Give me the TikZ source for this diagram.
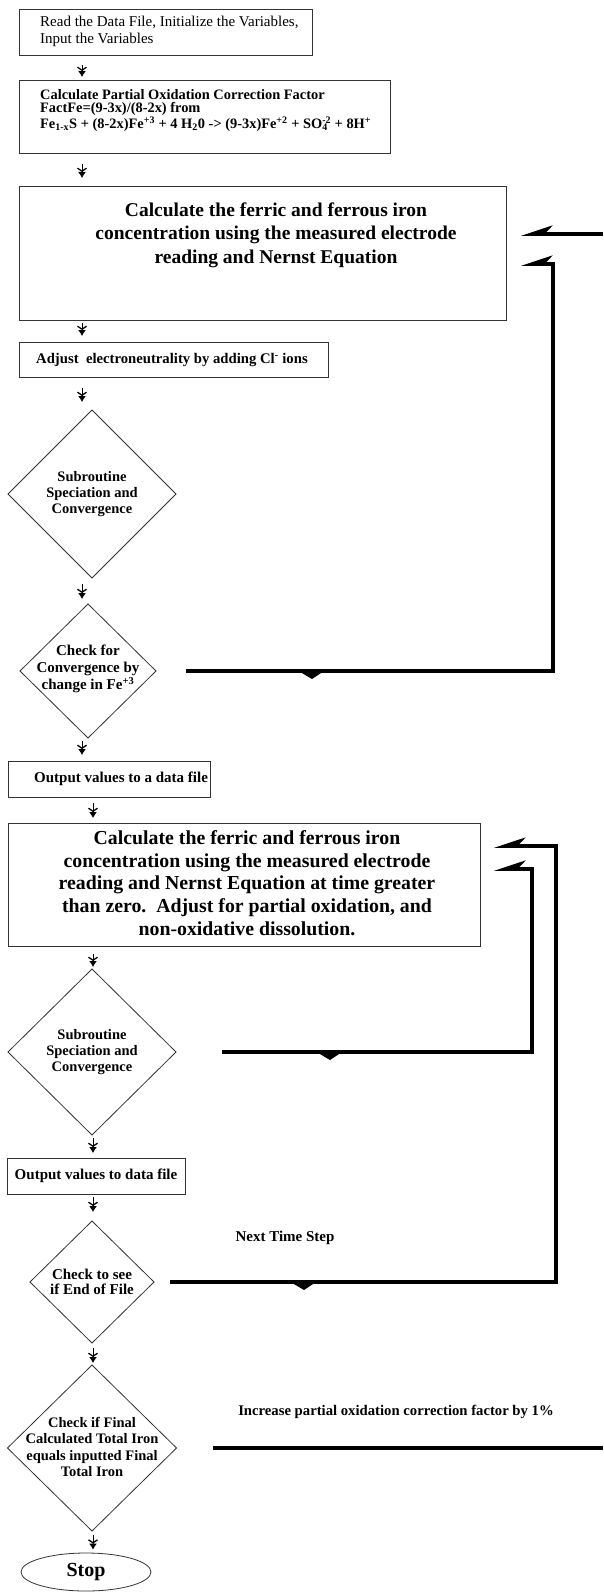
\documentclass[tikz,border=0pt]{standalone}
\usepackage{fontspec}
\setmainfont{Liberation Serif}
\usetikzlibrary{shapes.geometric,arrows.meta,calc}
\newcommand\fsz[2]{\fontsize{#1pt}{#2pt}\selectfont}
\begin{document}
\begin{tikzpicture}[x=1pt,y=-1pt,
  boxframe/.style={draw=black!80,line width=0.9pt,inner sep=0pt,outer sep=0pt},
  dia/.style={shape=diamond,draw=black!80,line width=0.8pt,inner sep=0pt,outer sep=0pt},
  txtl/.style={anchor=west,inner sep=0pt,align=left},
  txtc/.style={inner sep=0pt,align=center},
  flow/.style={line width=1pt,-{Straight Barb[length=3pt,width=9pt,line width=1.3pt]Latex[length=6pt,width=8pt]}},
  loopline/.style={line width=3.6pt},
  harp/.style={-{Stealth[harpoon,swap,length=26pt,width=17pt,inset=8pt]}},
]
\useasboundingbox (0,0) rectangle (603,1594);

% ---- boxes and decisions
\node[boxframe,minimum width=293pt,minimum height=46pt] (b1) at (165.5,32) {};
\node[txtl,font=\fsz{15}{16.5}] (t1) at (40,31.5) {Read the Data File, Initialize the Variables,\\Input the Variables};

\node[boxframe,minimum width=371pt,minimum height=73pt] (b2) at (204.5,116.5) {};
\node[txtl,font=\bfseries\fsz{14.4}{13.8}] (t2) at (40,110.5) {Calculate Partial Oxidation Correction Factor\\FactFe=(9-3x)/(8-2x) from\\Fe\textsubscript{1-x}S + (8-2x)Fe\textsuperscript{+3} + 4 H\textsubscript{2}0 -> (9-3x)Fe\textsuperscript{+2} + SO\rlap{\textsubscript{4}}\textsuperscript{-2} + 8H\textsuperscript{+}};

\node[boxframe,minimum width=487pt,minimum height=134pt] (b3) at (262.5,253) {};
\node[txtc,font=\bfseries\fsz{19.5}{23.5}] (t3) at (276,235) {Calculate the ferric and ferrous iron\\concentration using the measured electrode\\reading and Nernst Equation};

\node[boxframe,minimum width=309pt,minimum height=35pt] (b4) at (173.5,359.5) {};
\node[txtl,font=\bfseries\fsz{14.7}{16}] (t4) at (36,360) {Adjust\ \ electroneutrality by adding Cl\textsuperscript{-} ions};

\node[dia,minimum width=168pt,minimum height=168pt] (d1) at (92,494) {};
\node[txtc,font=\bfseries\fsz{14.5}{16}] (d1t) at (d1) {Subroutine\\Speciation and\\Convergence};

\node[dia,minimum width=136pt,minimum height=134pt] (d2) at (88,671) {};
\node[txtc,font=\bfseries\fsz{15}{17}] (d2t) at (88,669) {Check for\\Convergence by\\change in Fe\textsuperscript{+3}};

\node[boxframe,minimum width=202pt,minimum height=36pt] (o1) at (109,779) {};
\node[txtl,font=\bfseries\fsz{15}{16}] (o1t) at (34,779) {Output values to a data file};

\node[boxframe,minimum width=472pt,minimum height=123pt] (b5) at (244,884.5) {};
\node[txtc,font=\bfseries\fsz{19.8}{22.7}] (t5) at (247,883) {Calculate the ferric and ferrous iron\\concentration using the measured electrode\\reading and Nernst Equation at time greater\\than zero.\ \ Adjust for partial oxidation, and\\non-oxidative dissolution.};

\node[dia,minimum width=168pt,minimum height=166pt] (d3) at (92,1052) {};
\node[txtc,font=\bfseries\fsz{14.5}{16}] (d3t) at (d3) {Subroutine\\Speciation and\\Convergence};

\node[boxframe,minimum width=178pt,minimum height=36pt] (o2) at (96,1176) {};
\node[txtc,font=\bfseries\fsz{15}{16}] (o2t) at (o2) {Output values to data file};

\node[dia,minimum width=124pt,minimum height=122pt] (d4) at (92,1282) {};
\node[txtc,font=\bfseries\fsz{15}{15.5}] (d4t) at (d4) {Check to see\\if End of File};

\node[dia,minimum width=169pt,minimum height=166pt] (d5) at (92,1448) {};
\node[txtc,font=\bfseries\fsz{14.5}{16.5}] (d5t) at (92,1447) {Check if Final\\Calculated Total Iron\\equals inputted Final\\Total Iron};

\node[ellipse,draw=black!80,line width=0.8pt,inner sep=0pt,minimum width=130pt,minimum height=38pt,font=\bfseries\fsz{20}{22}] (stop) at (86,1572) {Stop};

\node[txtc,font=\bfseries\fsz{15}{16}] (nts) at (285,1238) {Next Time Step};
\node[txtc,font=\bfseries\fsz{14.7}{16}] (inc) at (396,1412) {Increase partial oxidation correction factor by 1\%};

% ---- main flow arrows
\draw[flow] ($(b1.south west)+(63,10)$) -- ($(b2.north west)+(63,-3)$);
\draw[flow] ($(b2.south west)+(63,11)$) -- ($(b3.north west)+(63,-8)$);
\draw[flow] ($(b3.south west)+(63,3)$) -- ($(b4.north west)+(63,-6)$);
\draw[flow] ($(b4.south west)+(63,11)$) -- ($(d1.north)+(-10,-8)$);
\draw[flow] ($(d1.south)+(-10,6)$) -- ($(d2.north)+(-6,-5)$);
\draw[flow] ($(d2.south)+(-6,3)$) -- ($(o1.north west)+(74,-6)$);
\draw[flow] ($(o1.south west)+(85,6)$) -- ($(b5.north west)+(85,-5)$);
\draw[flow] ($(b5.south west)+(85,8)$) -- ($(d3.north)+(1,-2)$);
\draw[flow] ($(d3.south)+(1,3)$) -- ($(o2.north west)+(86,-5)$);
\draw[flow] ($(o2.south west)+(86,3)$) -- ($(d4.north)+(1,-9)$);
\draw[flow] ($(d4.south)+(1,5)$) -- ($(d5.north)+(1,-2)$);
\draw[flow] ($(d5.south)+(1,4)$) -- ($(stop.north)+(7,-3)$);

% ---- feedback loops
\coordinate (b3e) at ([xshift=15pt]b3.east);
\coordinate (b5e) at ([xshift=14pt]b5.east);
\coordinate (r1) at (603,234);
\coordinate (r2) at (603,1448);
\coordinate (v1) at (553,264);
\coordinate (v2) at (532,869);
\coordinate (v3) at (556,846);

\draw[loopline,harp] (r1) -- (b3e |- r1);
\draw[loopline,harp] ($(d2.east)+(30,0)$) -- (v1 |- d2.east) -- (v1) -- (b3e |- v1);
\draw[loopline,harp] ($(d3.east)+(46,0)$) -- (v2 |- d3.east) -- (v2) -- (b5e |- v2);
\draw[loopline,harp] ($(d4.east)+(16,0)$) -- (v3 |- d4.east) -- (v3) -- (b5e |- v3);
\draw[loopline] ($(d5.east)+(36,0)$) -- (r2);

% ---- direction marks on the loop lines
\coordinate (m1) at (312,0);
\coordinate (m2) at (330,0);
\coordinate (m3) at (304,0);
\fill (m1 |- d2.east) ++(-11,1.5) -- ++(23,-1.5) -- ++(-12,8) -- cycle;
\fill (m2 |- d3.east) ++(-11,1.5) -- ++(23,-1.5) -- ++(-12,8) -- cycle;
\fill (m3 |- d4.east) ++(-11,1.5) -- ++(23,-1.5) -- ++(-12,8) -- cycle;
\end{tikzpicture}
\end{document}
